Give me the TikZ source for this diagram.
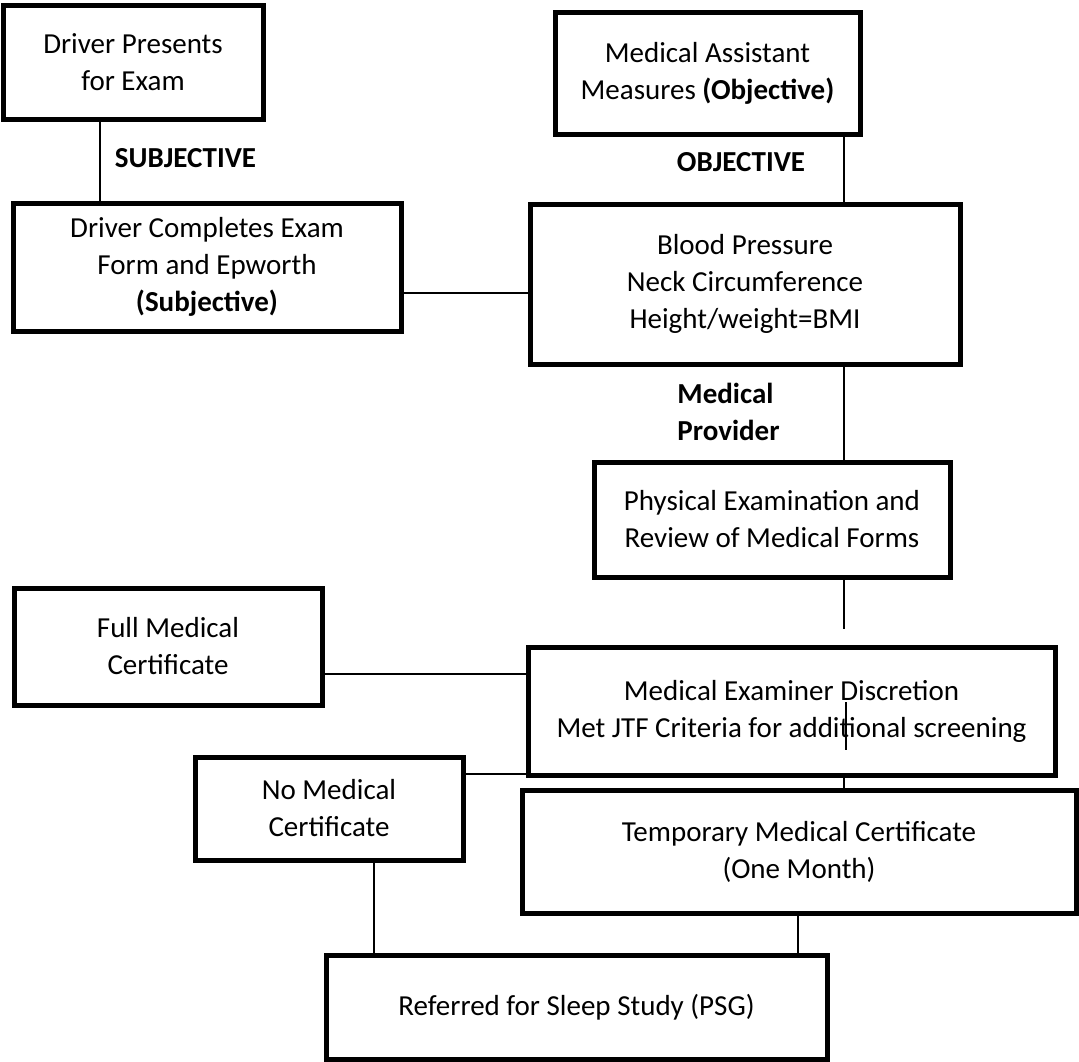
\documentclass[tikz,border=0pt]{standalone}
\usepackage{fontspec}
\setmainfont{Carlito}
\usepackage{tikz}

\begin{document}
\begin{tikzpicture}[x=0.5pt, y=-0.5pt,
  every node/.style={font=\fontsize{14.5}{18.5}\selectfont},
  box/.style={draw, line width=2.5pt, align=center, inner sep=0pt},
  tag/.style={font=\fontsize{14.5}{18.5}\selectfont\bfseries, inner sep=0pt},
  link/.style={line width=0.75pt}]
\useasboundingbox (0,0) rectangle (1079,1061);

% boxes
\node[box, minimum width=130pt, minimum height=57pt] (present) at (133,62) {Driver Presents\\for Exam};
\node[box, minimum width=152.5pt, minimum height=61pt] (assist) at (707.5,73) {Medical Assistant\\Measures \textbf{(Objective)}};
\node[box, minimum width=194pt, minimum height=64pt] (complete) at (207,267) {Driver Completes Exam\\Form and Epworth\\\textbf{(Subjective)}};
\node[box, minimum width=215pt, minimum height=80pt] (vitals) at (745,284) {Blood Pressure\\Neck Circumference\\Height/weight=BMI};
\node[box, minimum width=178pt, minimum height=57.5pt] (physical) at (772,519.5) {Physical Examination and\\Review of Medical Forms};
\node[box, minimum width=154pt, minimum height=58.5pt] (fullcert) at (168,646.5) {Full Medical\\Certificate};
\node[box, minimum width=263.5pt, minimum height=64pt] (discretion) at (791.5,711) {Medical Examiner Discretion\\Met JTF Criteria for additional screening};
\node[box, minimum width=134pt, minimum height=51.5pt] (nocert) at (329,808.5) {No Medical\\Certificate};
\node[box, minimum width=277pt, minimum height=61.5pt] (tempcert) at (799,851.5) {Temporary Medical Certificate\\(One Month)};
\node[box, minimum width=250.5pt, minimum height=52pt] (sleep) at (576.5,1007) {Referred for Sleep Study (PSG)};

% labels
\node[tag] (subj) at (185.5,158) {SUBJECTIVE};
\node[tag] (obj) at (741,162) {OBJECTIVE};
\node[tag, anchor=west, align=left] (provider) at (677,412) {Medical\\Provider};

% where the lines run
\coordinate (colA) at (100,0);
\coordinate (colB) at (844,0);
\coordinate (colC) at (374,0);
\coordinate (colD) at (798,0);
\coordinate (rowA) at (0,293);
\coordinate (rowB) at (0,674);
\coordinate (rowC) at (0,774);
\coordinate (loose) at (845,629);
\coordinate (stubtop) at (846,702);
\coordinate (stubbot) at (846,750);

\draw[link] (colA |- present.south) -- (colA |- complete.north);
\draw[link] (rowA -| complete.east) -- (rowA -| vitals.west);
\draw[link] (colB |- assist.south) -- (colB |- vitals.north);
\draw[link] (colB |- vitals.south) -- (colB |- physical.north);
\draw[link] (colB |- physical.south) -- (colB |- loose);
\draw[link] (stubtop) -- (stubbot);
\draw[link] (colB |- discretion.south) -- (colB |- tempcert.north);
\draw[link] (rowB -| fullcert.east) -- (rowB -| discretion.west);
\draw[link] (rowC -| nocert.east) -- (rowC -| discretion.west);
\draw[link] (colC |- nocert.south) -- (colC |- sleep.north);
\draw[link] (colD |- tempcert.south) -- (colD |- sleep.north);
\end{tikzpicture}
\end{document}
